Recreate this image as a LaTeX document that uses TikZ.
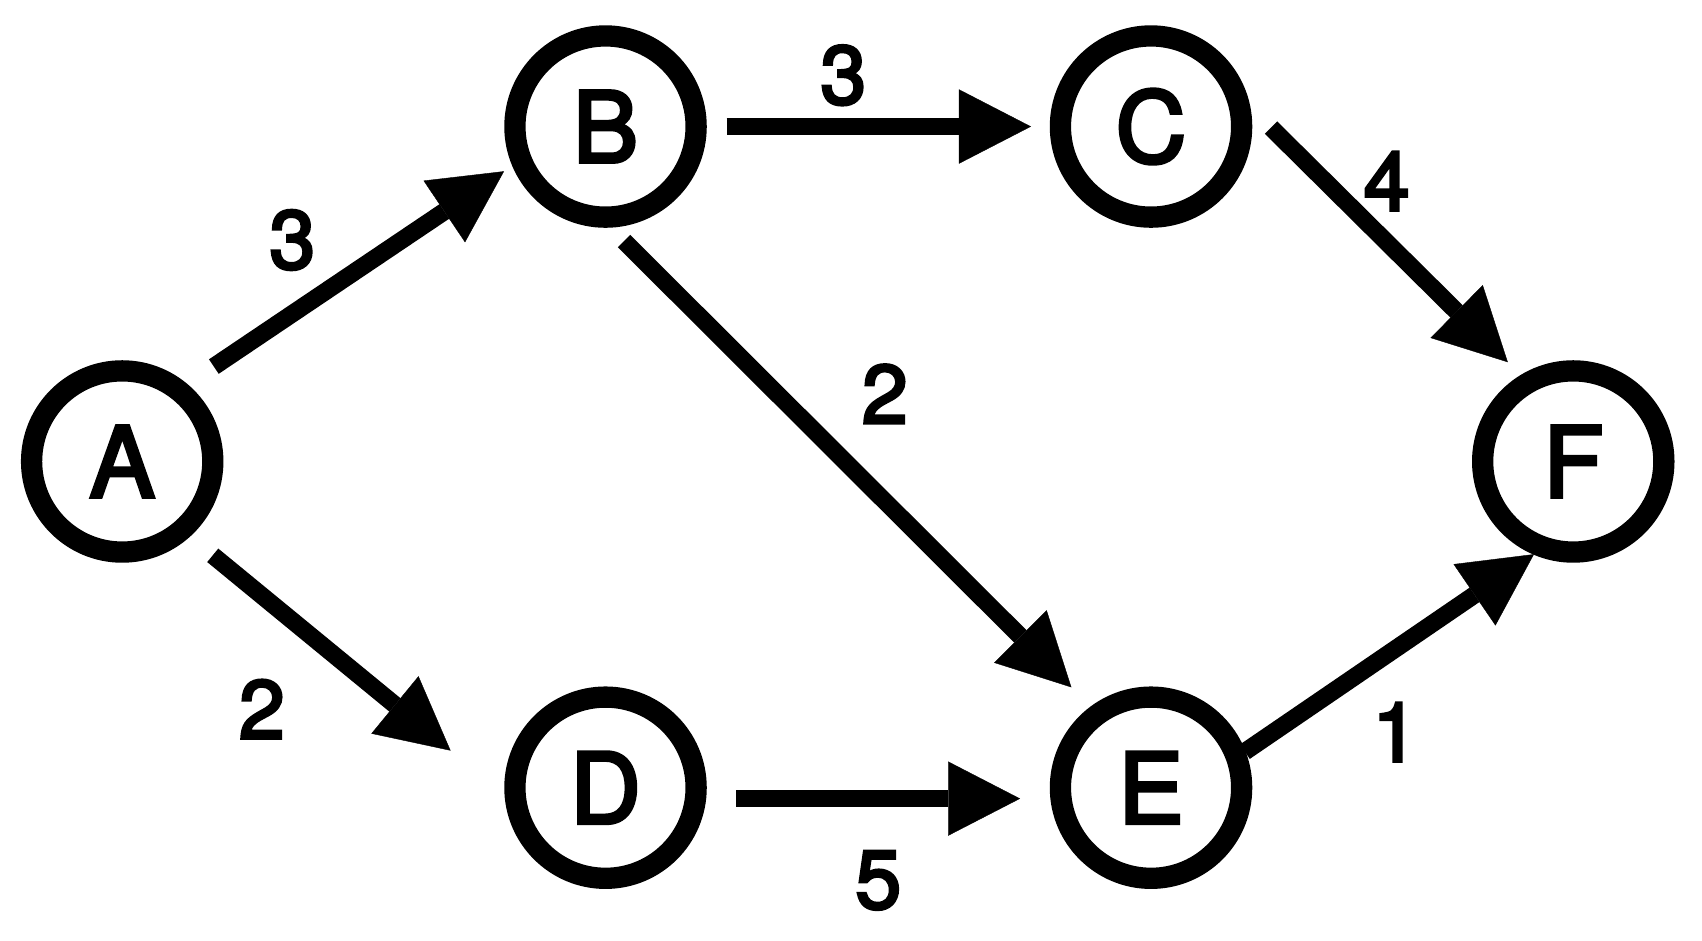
\documentclass[tikz,border=0pt]{standalone}
\usepackage{fontspec}
\setmainfont{TeX Gyre Heros}[FakeBold=3.6]
\usetikzlibrary{arrows.meta,calc}
\tikzset{
  vertex/.style={circle,draw=black,line width=0.195cm,minimum size=1.66cm,inner sep=0pt,font=\fontsize{25.5}{25.5}\selectfont},
  edge/.style={line width=0.16cm,-{Triangle[length=0.66cm,width=0.68cm,line width=0.1pt]}},
  weight/.style={inner sep=0pt,font=\fontsize{21.5}{21.5}\selectfont}
}
\begin{document}
\begin{tikzpicture}[x=0.01cm,y=-0.01cm]
\useasboundingbox (0,0) rectangle (1560,862);
\node[vertex] (A) at (112,423) {A};
\node[vertex] (B) at (555,116) {B};
\node[vertex] (C) at (1055,116) {C};
\node[vertex] (D) at (555,722) {D};
\node[vertex] (E) at (1055,722) {E};
\node[vertex] (F) at (1442,423) {F};
\draw[edge] ($(A)+(84,-87)$) -- ($(B)+(-93,41)$);
\draw[edge] ($(B)+(111,0)$) -- ($(C)+(-110,0)$);
\draw[edge] ($(C)+(110,1)$) -- ($(F)+(-60,-91)$);
\draw[edge] ($(B)+(17,105)$) -- ($(E)+(-73,-92)$);
\draw[edge] ($(A)+(83,86)$) -- ($(D)+(-142,-34)$);
\draw[edge] ($(D)+(120,10)$) -- ($(E)+(-120,10)$);
\draw[edge] ($(E)+(86,-33)$) -- ($(F)+(-36,85)$);
\node[weight] (wAB) at (268,220) {3};
\node[weight] (wBC) at (773,69) {3};
\node[weight] (wCF) at (1271,166) {4};
\node[weight] (wBE) at (811,361) {2};
\node[weight] (wAD) at (240,650) {2};
\node[weight] (wDE) at (805,807) {5};
\node[weight] (wEF) at (1279,671) {1};
\end{tikzpicture}
\end{document}
